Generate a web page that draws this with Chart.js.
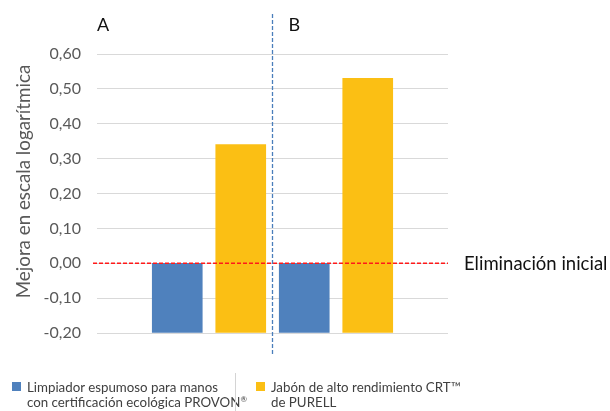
<!DOCTYPE html>
<html>
<head>
<meta charset="utf-8">
<script src="https://cdn.jsdelivr.net/npm/chart.js@4.4.1/dist/chart.umd.min.js"></script>
<style>
  html, body { margin: 0; padding: 0; background: #fff; }
  #wrap { position: relative; width: 610px; height: 411px; }
  #legend { position: absolute; left: 0; top: 0; width: 610px; height: 411px; pointer-events: none;
            font-family: Lato, sans-serif; font-size: 13.3px; color: #404040; line-height: 15px; }
  .box { position: absolute; width: 9px; height: 9px; top: 382px; }
  .txt { position: absolute; top: 380px; white-space: nowrap; }
  .txt sup { font-size: 8px; line-height: 0; vertical-align: 5px; }
  #sep { position: absolute; left: 235px; top: 373px; width: 1px; height: 38px; background: #d4d4d4; }
</style>
</head>
<body>
<div id="wrap">
  <canvas id="chart"></canvas>
  <div id="legend"></div>
</div>
<script>
// datos
const groups = ['A', 'B'];
const provon = [0.00, 0.00];
const purell = [0.34, 0.53];
const yTicks = [-0.20, -0.10, 0.00, 0.10, 0.20, 0.30, 0.40, 0.50, 0.60];
const seriesNames = [
  ['Limpiador espumoso para manos', 'con certificación ecológica PROVON®'],
  ['Jabón de alto rendimiento CRT™', 'de PURELL']
];
const seriesColors = ['#4f81bd', '#fbbf14'];
const yTitle = 'Mejora en escala logarítmica';
const initialLabel = 'Eliminación inicial';
const initialLevel = 0.00;

const yMin = yTicks[0];
const yMax = yTicks[yTicks.length - 1];
const nBars = groups.length * 2;
const dividerPos = (nBars + 1) / 2;
const xPad = 1.264; // margen a cada lado, en unidades de barra

const fmt = v => (Math.round(v * 100) / 100).toFixed(2).replace('.', ',');

// cada barra en su propia posicion x (1,2 para A; 3,4 para B)
const toPoints = (vals, k) => vals.map((v, i) => ({ x: i * 2 + 1 + k, y: v }));

const overlay = {
  id: 'overlay',
  afterDatasetsDraw(chart) {
    const { ctx, chartArea: a, scales: { x, y } } = chart;
    ctx.save();

    // titulo del eje y
    ctx.save();
    ctx.translate(30, (a.top + a.bottom) / 2 - 12);
    ctx.rotate(-Math.PI / 2);
    ctx.fillStyle = '#595959';
    ctx.font = '18.8px Lato, sans-serif';
    ctx.textAlign = 'center';
    ctx.textBaseline = 'alphabetic';
    ctx.fillText(yTitle, 0, 0);
    ctx.restore();

    // linea roja de eliminacion inicial
    const y0 = y.getPixelForValue(initialLevel);
    ctx.strokeStyle = '#ff1a1a';
    ctx.lineWidth = 1.3;
    ctx.setLineDash([4, 2]);
    ctx.beginPath();
    ctx.moveTo(a.left - 4, y0);
    ctx.lineTo(a.right, y0);
    ctx.stroke();

    ctx.setLineDash([]);
    ctx.fillStyle = '#111';
    ctx.font = '18.5px Lato, sans-serif';
    ctx.textBaseline = 'middle';
    ctx.textAlign = 'left';
    ctx.fillText(initialLabel, a.right + 16, y0 + 1);

    // separador azul entre A y B
    const xd = x.getPixelForValue(dividerPos);
    ctx.strokeStyle = '#4a7ebb';
    ctx.lineWidth = 1.3;
    ctx.setLineDash([4, 2]);
    ctx.beginPath();
    ctx.moveTo(xd, 14);
    ctx.lineTo(xd, a.bottom + 22);
    ctx.stroke();

    // etiquetas de grupo
    ctx.setLineDash([]);
    ctx.font = '18px Lato, sans-serif';
    ctx.fillStyle = '#111';
    ctx.fillText(groups[0], a.left, 25);
    ctx.fillText(groups[1], xd + 16, 25);
    ctx.restore();
  }
};

new Chart(document.getElementById('chart'), {
  type: 'bar',
  data: {
    datasets: [
      { label: seriesNames[0].join(' '), data: toPoints(provon, 0), backgroundColor: seriesColors[0] },
      { label: seriesNames[1].join(' '), data: toPoints(purell, 1), backgroundColor: seriesColors[1] }
    ]
  },
  options: {
    responsive: true,
    maintainAspectRatio: false,
    animation: false,
    datasets: { bar: { base: yMin, grouped: false, barThickness: 50 } },
    layout: { padding: { left: 14, right: 162, top: 54, bottom: 78 } },
    plugins: { legend: { display: false }, tooltip: { enabled: false } },
    scales: {
      x: {
        type: 'linear',
        display: false,
        offset: false,
        min: 1 - xPad,
        max: nBars + xPad
      },
      y: {
        min: yMin,
        max: yMax,
        border: { display: false },
        grid: { color: '#d9d9d9', lineWidth: 1, drawTicks: false },
        afterBuildTicks: s => { s.ticks = yTicks.map(v => ({ value: v })); },
        afterFit: s => { s.width = 83; },
        ticks: {
          padding: 16,
          color: '#595959',
          font: { family: 'Lato', size: 16 },
          callback: v => fmt(v)
        }
      }
    }
  },
  plugins: [overlay]
});

// leyenda en dos columnas
const legend = document.getElementById('legend');
const boxLefts = [12, 256];
const supMarks = s => s.replace(/®/g, '<sup>®</sup>');
seriesNames.forEach((lines, i) => {
  const box = document.createElement('div');
  box.className = 'box';
  box.style.left = boxLefts[i] + 'px';
  box.style.background = seriesColors[i];
  const txt = document.createElement('div');
  txt.className = 'txt';
  txt.style.left = (boxLefts[i] + 15) + 'px';
  txt.innerHTML = lines.map(supMarks).join('<br>');
  legend.appendChild(box);
  legend.appendChild(txt);
});
const sep = document.createElement('div');
sep.id = 'sep';
legend.appendChild(sep);
</script>
</body>
</html>
